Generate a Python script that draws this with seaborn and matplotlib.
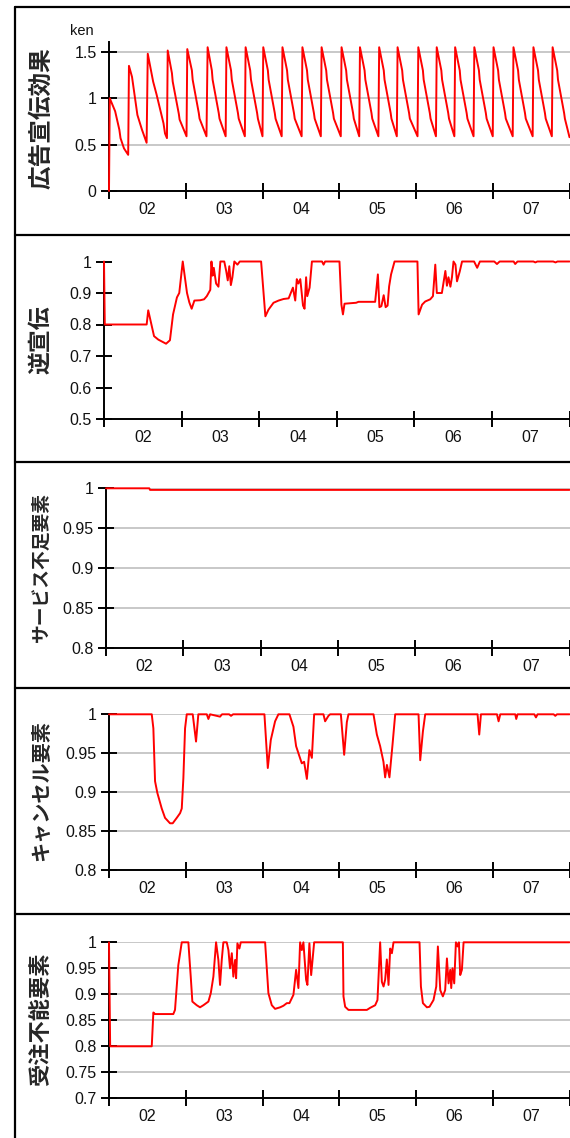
import numpy as np
import pandas as pd
import seaborn as sns
import matplotlib.pyplot as plt
from matplotlib.lines import Line2D

# x values are in months from the start of "02" (each month = 1 unit)
months = ['02', '03', '04', '05', '06', '07']

# 広告宣伝効果 (weekly sawtooth)
ad_x = [
    0.00, 0.01, 0.08, 0.135, 0.15, 0.195, 0.25,
    0.26, 0.30, 0.37, 0.43, 0.49,
    0.505, 0.575, 0.62, 0.71, 0.73, 0.755,
    0.765, 0.82, 0.83, 0.91, 0.92, 1.01,
    1.02, 1.08, 1.09, 1.17, 1.18, 1.27,
    1.285, 1.34, 1.35, 1.43, 1.44, 1.52,
    1.53, 1.59, 1.60, 1.68, 1.69, 1.77,
    1.78, 1.84, 1.85, 1.93, 1.94, 2.00,
    2.01, 2.07, 2.08, 2.16, 2.17, 2.25,
    2.26, 2.32, 2.33, 2.41, 2.42, 2.51,
    2.52, 2.58, 2.59, 2.67, 2.68, 2.76,
    2.77, 2.83, 2.84, 2.92, 2.93, 3.02,
    3.03, 3.09, 3.10, 3.18, 3.19, 3.26,
    3.27, 3.33, 3.34, 3.42, 3.43, 3.51,
    3.52, 3.58, 3.59, 3.67, 3.68, 3.75,
    3.76, 3.82, 3.83, 3.91, 3.92, 4.02,
    4.03, 4.09, 4.10, 4.18, 4.19, 4.26,
    4.27, 4.33, 4.34, 4.42, 4.43, 4.50,
    4.51, 4.57, 4.58, 4.66, 4.67, 4.75,
    4.76, 4.82, 4.83, 4.91, 4.92, 5.00,
    5.01, 5.07, 5.08, 5.16, 5.17, 5.26,
    5.27, 5.33, 5.34, 5.42, 5.43, 5.52,
    5.53, 5.59, 5.60, 5.68, 5.69, 5.77,
    5.78, 5.84, 5.85, 5.93, 5.94, 6.00,
]
ad_y = [
    0.00, 1.00, 0.86, 0.66, 0.57, 0.46, 0.39,
    1.35, 1.23, 0.82, 0.66, 0.52,
    1.48, 1.18, 1.04, 0.73, 0.62, 0.57,
    1.515, 1.27, 1.18, 0.83, 0.77, 0.59,
    1.53, 1.30, 1.20, 0.84, 0.78, 0.59,
    1.55, 1.30, 1.20, 0.84, 0.78, 0.59,
    1.55, 1.30, 1.20, 0.84, 0.78, 0.59,
    1.55, 1.30, 1.20, 0.84, 0.78, 0.59,
    1.55, 1.30, 1.20, 0.84, 0.78, 0.59,
    1.55, 1.30, 1.20, 0.84, 0.78, 0.59,
    1.55, 1.30, 1.20, 0.84, 0.78, 0.59,
    1.55, 1.30, 1.20, 0.84, 0.78, 0.59,
    1.55, 1.30, 1.20, 0.84, 0.78, 0.59,
    1.55, 1.30, 1.20, 0.84, 0.78, 0.59,
    1.55, 1.30, 1.20, 0.84, 0.78, 0.59,
    1.55, 1.30, 1.20, 0.84, 0.78, 0.59,
    1.55, 1.30, 1.20, 0.84, 0.78, 0.59,
    1.55, 1.30, 1.20, 0.84, 0.78, 0.59,
    1.55, 1.30, 1.20, 0.84, 0.78, 0.59,
    1.55, 1.30, 1.20, 0.84, 0.78, 0.59,
    1.55, 1.30, 1.20, 0.84, 0.78, 0.59,
    1.55, 1.30, 1.20, 0.84, 0.78, 0.59,
    1.55, 1.30, 1.20, 0.84, 0.78, 0.59,
    1.55, 1.30, 1.20, 0.84, 0.78, 0.58,
]

# 逆宣伝
rev_x = [
    0.00, 0.01, 0.55, 0.57, 0.645, 0.70, 0.80, 0.85, 0.89, 0.94,
    0.97, 1.015, 1.07, 1.10, 1.13, 1.165, 1.24, 1.29, 1.325, 1.37,
    1.385, 1.40, 1.415, 1.445, 1.475, 1.50, 1.55, 1.575, 1.595, 1.615,
    1.635, 1.655, 1.68, 1.72, 1.75, 2.025, 2.08, 2.12, 2.185, 2.25,
    2.315, 2.38, 2.435, 2.465, 2.485, 2.505, 2.53, 2.565, 2.585, 2.605,
    2.62, 2.65, 2.68, 2.81, 2.83, 2.85, 3.035, 3.06, 3.08, 3.10,
    3.25, 3.28, 3.495, 3.53, 3.55, 3.575, 3.605, 3.63, 3.655, 3.675,
    3.70, 3.745, 4.04, 4.055, 4.10, 4.14, 4.205, 4.24, 4.27, 4.29,
    4.355, 4.40, 4.42, 4.44, 4.465, 4.485, 4.505, 4.53, 4.55, 4.585,
    4.615, 4.77, 4.81, 4.845, 5.03, 5.065, 5.10, 5.28, 5.30, 5.33,
    5.535, 5.56, 5.585, 5.79, 5.82, 5.845, 6.00,
]
rev_y = [
    1.00, 0.80, 0.80, 0.845, 0.763, 0.752, 0.739, 0.75, 0.832, 0.886,
    0.90, 1.00, 0.90, 0.87, 0.85, 0.876, 0.877, 0.88, 0.89, 0.91,
    1.00, 0.955, 0.98, 0.93, 0.92, 1.00, 1.00, 0.97, 0.94, 0.985,
    0.925, 0.95, 1.00, 0.99, 1.00, 1.00, 0.826, 0.847, 0.869, 0.876,
    0.881, 0.883, 0.917, 0.876, 0.944, 0.93, 0.944, 0.86, 0.85, 0.95,
    0.89, 0.917, 1.00, 1.00, 0.99, 1.00, 1.00, 0.863, 0.832, 0.866,
    0.869, 0.872, 0.872, 0.959, 0.855, 0.858, 0.893, 0.855, 0.86, 0.921,
    0.959, 1.00, 1.00, 0.832, 0.863, 0.873, 0.88, 0.89, 0.99, 0.90,
    0.90, 0.97, 0.923, 0.95, 0.92, 0.95, 1.00, 0.99, 0.937, 0.968,
    1.00, 1.00, 0.98, 1.00, 1.00, 0.992, 1.00, 1.00, 0.992, 1.00,
    1.00, 0.997, 1.00, 1.00, 0.997, 1.00, 1.00,
]

# サービス不足要素
svc_x = [0.00, 0.56, 0.57, 6.00]
svc_y = [1.000, 1.000, 0.998, 0.998]

# キャンセル要素
can_x = [
    0.00, 0.557, 0.578, 0.60, 0.63, 0.687, 0.73, 0.795, 0.83, 0.883,
    0.926, 0.948, 0.969, 0.991, 1.013, 1.091, 1.134, 1.164, 1.274, 1.295,
    1.317, 1.447, 1.473, 1.565, 1.59, 1.617, 2.025, 2.069, 2.108, 2.164,
    2.207, 2.351, 2.403, 2.438, 2.468, 2.512, 2.542, 2.578, 2.611, 2.643,
    2.673, 2.794, 2.816, 2.859, 2.881, 3.021, 3.064, 3.099, 3.12, 3.446,
    3.49, 3.533, 3.576, 3.598, 3.621, 3.654, 3.694, 3.729, 4.033, 4.055,
    4.09, 4.12, 4.802, 4.824, 4.846, 5.055, 5.076, 5.098, 5.293, 5.306,
    5.323, 5.541, 5.563, 5.584, 5.793, 5.815, 5.837, 6.00,
]
can_y = [
    1.0, 1.0, 0.982, 0.914, 0.899, 0.879, 0.867, 0.860, 0.860, 0.867,
    0.873, 0.879, 0.918, 0.982, 1.0, 1.0, 0.965, 1.0, 1.0, 0.994,
    1.0, 0.997, 1.0, 1.0, 0.998, 1.0, 1.0, 0.931, 0.967, 0.991,
    1.0, 1.0, 0.984, 0.959, 0.95, 0.937, 0.939, 0.917, 0.954, 0.944,
    1.0, 1.0, 0.991, 0.998, 1.0, 1.0, 0.948, 0.99, 1.0, 1.0,
    0.974, 0.959, 0.939, 0.919, 0.935, 0.919, 0.961, 1.0, 1.0, 0.941,
    0.978, 1.0, 1.0, 0.974, 1.0, 1.0, 0.991, 1.0, 1.0, 0.994,
    1.0, 1.0, 0.996, 1.0, 1.0, 0.998, 1.0, 1.0,
]

# 受注不能要素
ord_x = [
    0.00, 0.015, 0.557, 0.578, 0.60, 0.838, 0.86, 0.903, 0.948, 1.034,
    1.065, 1.086, 1.143, 1.186, 1.23, 1.295, 1.326, 1.36, 1.395, 1.425,
    1.447, 1.469, 1.49, 1.534, 1.556, 1.577, 1.60, 1.62, 1.643, 1.656,
    1.673, 1.699, 1.717, 2.034, 2.077, 2.121, 2.164, 2.23, 2.273, 2.317,
    2.351, 2.403, 2.438, 2.468, 2.49, 2.512, 2.533, 2.568, 2.585, 2.611,
    2.634, 2.673, 3.047, 3.055, 3.077, 3.12, 3.36, 3.403, 3.468, 3.498,
    3.533, 3.555, 3.577, 3.598, 3.62, 3.642, 3.664, 3.686, 3.707, 4.046,
    4.064, 4.09, 4.142, 4.176, 4.228, 4.264, 4.285, 4.316, 4.35, 4.38,
    4.403, 4.424, 4.446, 4.459, 4.476, 4.498, 4.52, 4.541, 4.559, 4.576,
    4.598, 4.62, 6.00,
]
ord_y = [
    1.0, 0.80, 0.80, 0.865, 0.862, 0.862, 0.87, 0.956, 1.0, 1.0,
    0.934, 0.886, 0.879, 0.875, 0.879, 0.886, 0.902, 0.934, 1.0, 0.966,
    0.918, 0.966, 1.0, 1.0, 0.985, 0.95, 0.979, 0.934, 0.966, 0.931,
    0.998, 0.988, 1.0, 1.0, 0.902, 0.879, 0.872, 0.875, 0.878, 0.883,
    0.883, 0.899, 0.947, 0.912, 1.0, 0.985, 1.0, 0.928, 0.918, 0.998,
    0.937, 1.0, 1.0, 0.896, 0.876, 0.87, 0.87, 0.874, 0.879, 0.889,
    1.0, 0.924, 0.915, 0.928, 0.967, 0.918, 0.988, 0.979, 1.0, 1.0,
    0.915, 0.883, 0.875, 0.876, 0.889, 0.915, 0.992, 0.908, 0.896, 0.908,
    0.969, 0.921, 0.947, 0.912, 0.95, 0.921, 1.0, 0.992, 1.0, 0.937,
    0.947, 1.0, 1.0,
]

sns.set_style('white')
plt.rcParams['font.family'] = ['Liberation Sans', 'Noto Sans CJK JP']

W, H = 570, 1138
fig = plt.figure(figsize=(W / 100, H / 100), dpi=100)

# label, x, y, axis left / top / bottom (px), ylim, yticks, grid, label centre y, label size
panels = [
    ('広告宣伝効果', ad_x, ad_y, 109, 41.7, 191, (0, 1.61), [0, 0.5, 1, 1.5], True, 118, 17),
    ('逆宣伝', rev_x, rev_y, 104, 261.5, 419, (0.5, 1.0), [0.5, 0.6, 0.7, 0.8, 0.9, 1.0], False, 340, 16.5),
    ('サービス不足要素', svc_x, svc_y, 106, 488.3, 647.7, (0.8, 1.0), [0.8, 0.85, 0.9, 0.95, 1.0], True, 567, 13.5),
    ('キャンセル要素', can_x, can_y, 109, 714.3, 870, (0.8, 1.0), [0.8, 0.85, 0.9, 0.95, 1.0], True, 791, 14.5),
    ('受注不能要素', ord_x, ord_y, 109, 942.3, 1098.3, (0.7, 1.0), [0.7, 0.75, 0.8, 0.85, 0.9, 0.95, 1.0], True, 1019, 16),
]

for label, xs, ys, left, top, bottom, ylim, yticks, grid, cy, lsize in panels:
    ax = fig.add_axes([left / W, 1 - bottom / H, (569.5 - left) / W, (bottom - top) / H])
    ax.patch.set_alpha(0)
    df = pd.DataFrame({'month': xs, 'value': ys})
    sns.lineplot(data=df, x='month', y='value', ax=ax, color='red', lw=1.4,
                 estimator=None, sort=False, clip_on=False, zorder=3)
    ax.set_xlim(0, 6)
    ax.set_ylim(*ylim)
    ax.set_xlabel('')
    ax.set_ylabel('')
    ax.set_yticks(yticks)
    ax.set_yticklabels([f'{v:g}' for v in yticks])
    ax.set_xticks(range(7))
    ax.set_xticklabels([])
    ax.set_xticks(np.arange(0.5, 6, 1), minor=True)
    ax.set_xticklabels(months, minor=True)
    ax.tick_params(which='major', direction='inout', length=12, width=1.4,
                   color='black', labelsize=11.5, labelcolor='#111111',
                   bottom=True, left=True)
    ax.tick_params(axis='x', which='minor', bottom=True, length=0, pad=8,
                   labelsize=11.5, labelcolor='#111111')
    ax.tick_params(axis='y', pad=3)
    for s in ['top', 'right']:
        ax.spines[s].set_visible(False)
    for s in ['left', 'bottom']:
        ax.spines[s].set_color('black')
        ax.spines[s].set_linewidth(1.4)
    if grid:
        ax.yaxis.grid(True, color='#c8c8c8', lw=1.4)
    ax.xaxis.grid(False)
    ax.set_axisbelow(True)

    fig.text(41 / W, 1 - cy / H, label, rotation=90, ha='center', va='center',
             fontsize=lsize, fontweight='bold', family=['Noto Sans CJK JP'])

fig.text(82 / W, 1 - 31 / H, 'ken', ha='center', va='center', fontsize=10.5, color='#111111')

# panel frames
for y in [7, 235, 462, 688, 914]:
    fig.add_artist(Line2D([15 / W, 1], [1 - y / H, 1 - y / H], color='black', lw=1.6))
fig.add_artist(Line2D([15 / W, 15 / W], [1 - 7 / H, 0], color='black', lw=1.6))

fig.savefig('out.png', dpi=100)
